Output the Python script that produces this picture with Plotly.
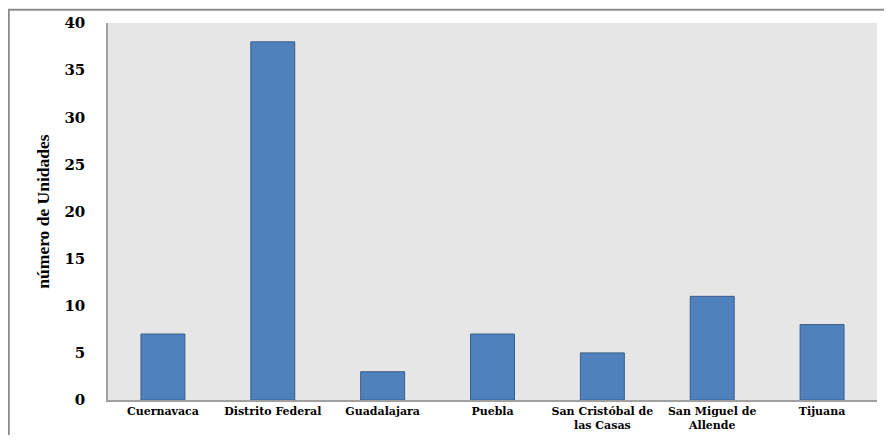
import plotly.graph_objects as go

# data
ciudades = ["Cuernavaca", "Distrito Federal", "Guadalajara", "Puebla",
            "San Cristóbal de<br>las Casas", "San Miguel de<br>Allende", "Tijuana"]
unidades = [7, 38, 3, 7, 5, 11, 8]
y_ticks = [0, 5, 10, 15, 20, 25, 30, 35, 40]

fig = go.Figure(go.Bar(
    x=ciudades, y=unidades,
    marker=dict(color="#4F81BD", line=dict(color="#385D8A", width=1)),
))

# page body has an 8px margin, so the figure is a bit smaller than the window
fig.update_layout(
    width=876, height=427,
    margin=dict(l=100, r=7, t=15, b=35),
    paper_bgcolor="white", plot_bgcolor="#E6E6E6",
    bargap=0.6, showlegend=False,
    font=dict(family="DejaVu Serif", color="black"),
    shapes=[dict(type="rect", xref="paper", yref="paper",
                 x0=-0.129, x1=1.1, y0=-0.3, y1=1.035,
                 line=dict(color="#8C8C8C", width=2), layer="below")],
)

fig.update_xaxes(
    automargin=False,
    showline=True, linecolor="#A0A0A0", linewidth=1.5,
    tickfont=dict(size=11, family="DejaVu Serif"), ticklabelstandoff=0,
    tickangle=0,
    ticktext=["<b>%s</b>" % c for c in ciudades], tickvals=ciudades,
)
fig.update_yaxes(
    automargin=False,
    range=[0, 40], tickvals=y_ticks, showgrid=False, zeroline=False,
    showline=True, linecolor="#A0A0A0", linewidth=1.5,
    tickfont=dict(size=15, family="DejaVu Serif"), ticklabelstandoff=18,
    ticktext=["<b>%d</b>" % v for v in y_ticks],
    title=dict(text="<b>número de Unidades</b>",
               font=dict(size=17.5, family="Liberation Serif"), standoff=10),
)

fig.write_html("out.html")
